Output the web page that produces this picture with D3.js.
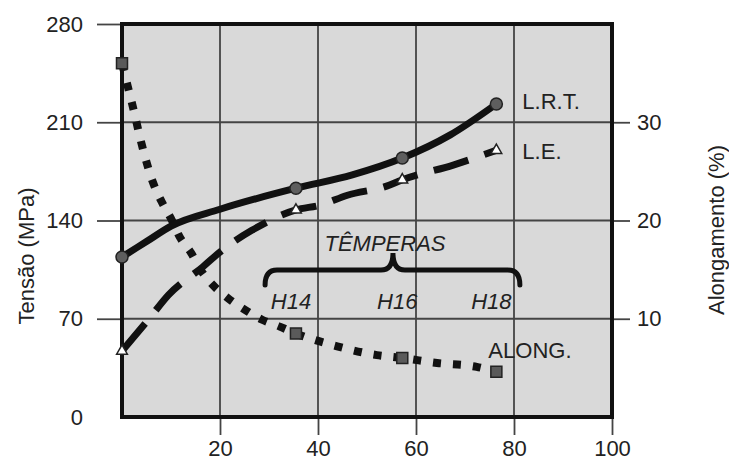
<!DOCTYPE html>
<html>
<head>
<meta charset="utf-8">
<script src="https://cdn.jsdelivr.net/npm/d3@7"></script>
<style>
  body { margin: 0; background: #fff; }
  text { font-family: "Liberation Sans", Arial, sans-serif; fill: #222; }
</style>
</head>
<body>
<div id="chart"></div>
<script>
// tempers and where they sit on the x axis
const tempers = ["O", "H14", "H16", "H18"];
const temperX = [0, 35.5, 57.2, 76.4];

// marker values at each temper
const lrtValues = [114, 163, 184.5, 223];   // MPa
const leValues = [47, 147.5, 169, 190];      // MPa
const alongValues = [36, 8.5, 6.0, 4.6];     // %

// curves
const lrtCurveX = [0, 5, 10, 20, 35.5, 47, 57.2, 67, 76.4];
const lrtCurveY = [114, 125, 136, 148, 163, 172.5, 184.5, 201, 223];
const leCurveX = [0, 5.3, 9.5, 16.5, 20.5, 26.5, 35.5, 40.5, 46, 54, 57.2, 67.6, 76.4];
const leCurveY = [47, 69, 87, 107, 119, 133, 147.5, 151, 158, 164.5, 169, 179.5, 190];
const alongCurveX = [0, 1.2, 2.2, 4.1, 6.3, 8.1, 10.2, 11.8, 14.1, 16, 18.6, 21.6, 25.1, 28.6, 32.2, 35.5, 43.9, 52, 57.2, 64.3, 72.4, 76.4];
const alongCurveY = [36, 33.6, 31.6, 27.6, 23.9, 21.9, 20.0, 18.3, 16.7, 15, 13.4, 12.1, 10.9, 9.9, 9.2, 8.5, 7.2, 6.3, 6.0, 5.5, 5.1, 4.6];

// axis ticks
const xTicks = [20, 40, 60, 80, 100];
const leftTicks = [0, 70, 140, 210, 280];
const rightTicks = [10, 20, 30];

const svgwidth = 729;
const svgheight = 461;
var margin = {top: 24, right: 117, bottom: 44, left: 122};
var width = svgwidth - margin.left - margin.right;
var height = svgheight - margin.top - margin.bottom;

var svg = d3.select("#chart")
  .append("svg")
  .attr("width", svgwidth)
  .attr("height", svgheight);

var chart = svg.append("g")
  .attr("transform", `translate(${margin.left}, ${margin.top})`);

var x = d3.scaleLinear().domain([0, 100]).range([0, width]);
var yL = d3.scaleLinear().domain([0, 280]).range([height, 0]);
var yR = d3.scaleLinear().domain([0, 40]).range([height, 0]);

// grey plot area
chart.append("rect")
  .attr("width", width)
  .attr("height", height)
  .attr("fill", "#d9d9d9");

// grid
chart.selectAll(".vgrid")
  .data(xTicks.filter(d => d < 100))
  .enter().append("line")
  .attr("x1", d => x(d)).attr("x2", d => x(d))
  .attr("y1", 0).attr("y2", height)
  .attr("stroke", "#444").attr("stroke-width", 1.8);
chart.selectAll(".hgrid")
  .data(leftTicks.filter(d => d > 0 && d < 280))
  .enter().append("line")
  .attr("x1", 0).attr("x2", width)
  .attr("y1", d => yL(d)).attr("y2", d => yL(d))
  .attr("stroke", "#444").attr("stroke-width", 1.8);

// axes
function styleAxis(g) {
  g.attr("font-size", 22).attr("font-family", "Liberation Sans, Arial, sans-serif");
  g.select(".domain").remove();
  g.selectAll(".tick line").attr("stroke", "#444").attr("stroke-width", 1.8);
  g.selectAll(".tick text").attr("fill", "#222");
}

var leftAxis = chart.append("g")
  .call(d3.axisLeft(yL).tickValues(leftTicks).tickSize(25).tickPadding(14))
  .call(styleAxis);
leftAxis.selectAll(".tick line").filter(d => d === 0).remove();

chart.append("g")
  .attr("transform", `translate(0, ${height})`)
  .call(d3.axisBottom(x).tickValues(xTicks).tickSize(18).tickPadding(5))
  .call(styleAxis);

chart.append("g")
  .attr("transform", `translate(${width}, 0)`)
  .call(d3.axisRight(yR).tickValues(rightTicks).tickSize(18).tickPadding(7))
  .call(styleAxis);

// curves
var lineL = d3.line().x(d => x(d[0])).y(d => yL(d[1])).curve(d3.curveMonotoneX);
var lineR = d3.line().x(d => x(d[0])).y(d => yR(d[1])).curve(d3.curveMonotoneX);

chart.append("path")
  .attr("d", lineR(d3.zip(alongCurveX, alongCurveY)))
  .attr("fill", "none").attr("stroke", "#111")
  .attr("stroke-width", 8).attr("stroke-dasharray", "8,12");

chart.append("path")
  .attr("d", lineL(d3.zip(leCurveX, leCurveY)))
  .attr("fill", "none").attr("stroke", "#111")
  .attr("stroke-width", 7).attr("stroke-dasharray", "36,17");

chart.append("path")
  .attr("d", lineL(d3.zip(lrtCurveX, lrtCurveY)))
  .attr("fill", "none").attr("stroke", "#111")
  .attr("stroke-width", 7);

// frame
chart.append("rect")
  .attr("width", width)
  .attr("height", height)
  .attr("fill", "none")
  .attr("stroke", "#111")
  .attr("stroke-width", 4);

// markers
chart.selectAll(".lrt")
  .data(d3.zip(temperX, lrtValues))
  .enter().append("circle")
  .attr("cx", d => x(d[0])).attr("cy", d => yL(d[1]))
  .attr("r", 6)
  .attr("fill", "#5e5e5e").attr("stroke", "#222").attr("stroke-width", 1.5);

chart.selectAll(".le")
  .data(d3.zip(temperX, leValues))
  .enter().append("path")
  .attr("transform", d => `translate(${x(d[0])}, ${yL(d[1])})`)
  .attr("d", d3.symbol(d3.symbolTriangle, 50))
  .attr("fill", "#fff").attr("stroke", "#222").attr("stroke-width", 1.5);

chart.selectAll(".along")
  .data(d3.zip(temperX, alongValues))
  .enter().append("path")
  .attr("transform", d => `translate(${x(d[0])}, ${yR(d[1])})`)
  .attr("d", d3.symbol(d3.symbolSquare, 121))
  .attr("fill", "#5a5a5a").attr("stroke", "#222").attr("stroke-width", 1.5);

// series labels
var last = tempers.length - 1;
chart.append("text")
  .attr("x", x(temperX[last]) + 26).attr("y", yL(lrtValues[last]) + 5)
  .attr("font-size", 22).text("L.R.T.");
chart.append("text")
  .attr("x", x(temperX[last]) + 26).attr("y", yL(leValues[last]) + 9)
  .attr("font-size", 22).text("L.E.");
chart.append("text")
  .attr("x", x(temperX[last]) - 8).attr("y", yR(alongValues[last]) - 14)
  .attr("font-size", 22).text("ALONG.");

// brace for the tempers
var braceL = x(29.2), braceM = x(55.3), braceR = x(81.2);
var yEnd = yL(94), yTop = yL(104.7), yPeak = yL(116.8), r = 12;
chart.append("path")
  .attr("d", `M${braceL},${yEnd} Q${braceL},${yTop} ${braceL + r},${yTop}` +
    ` L${braceM - r},${yTop} Q${braceM},${yTop} ${braceM},${yPeak}` +
    ` Q${braceM},${yTop} ${braceM + r},${yTop}` +
    ` L${braceR - r},${yTop} Q${braceR},${yTop} ${braceR},${yEnd}`)
  .attr("fill", "none").attr("stroke", "#111")
  .attr("stroke-width", 5).attr("stroke-linecap", "round");

chart.append("text")
  .attr("x", braceM - 8).attr("y", yPeak - 2)
  .attr("text-anchor", "middle").attr("font-style", "italic")
  .attr("font-size", 22).text("TÊMPERAS");

chart.selectAll(".temper")
  .data(tempers.slice(1))
  .enter().append("text")
  .attr("x", (d, i) => x(temperX[i + 1]) - 5)
  .attr("y", yEnd + 24)
  .attr("text-anchor", "middle").attr("font-style", "italic")
  .attr("font-size", 22).text(d => d);

// axis titles
svg.append("text")
  .attr("transform", `translate(34, 256) rotate(-90)`)
  .attr("text-anchor", "middle").attr("font-size", 22)
  .text("Tensão (MPa)");
svg.append("text")
  .attr("transform", `translate(724, 230) rotate(-90)`)
  .attr("text-anchor", "middle").attr("font-size", 22)
  .text("Alongamento (%)");
</script>
</body>
</html>
